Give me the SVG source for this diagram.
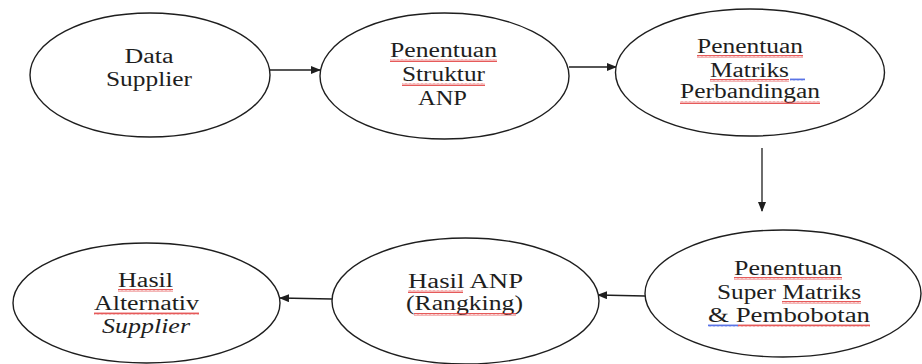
<svg xmlns="http://www.w3.org/2000/svg" width="922" height="364" viewBox="0 0 922 364">
<style>
.n ellipse{fill:#fff;stroke:#1e1e1e;stroke-width:1.4}
text{font-family:"Liberation Serif","Times New Roman",serif;font-size:20px;fill:#1e1e1e;text-anchor:middle}
.c line{stroke:#1e1e1e;stroke-width:1.3}
.w{fill:url(#wr)}
.wb{fill:url(#wb)}
</style>
<defs>
<marker id="ah" markerWidth="10" markerHeight="8" refX="9" refY="4" orient="auto" markerUnits="userSpaceOnUse">
<path d="M0,0 L10,4 L0,8 Z" fill="#1e1e1e"/>
</marker>
<pattern id="wr" width="4" height="3" patternUnits="userSpaceOnUse">
<path d="M0,2.5 L1,0.5 L2,2.5 L3,0.5 L4,2.5" fill="none" stroke="#e03030" stroke-width="0.8"/>
</pattern>
<pattern id="wb" width="4" height="3" patternUnits="userSpaceOnUse">
<path d="M0,2.5 L1,0.5 L2,2.5 L3,0.5 L4,2.5" fill="none" stroke="#3050e0" stroke-width="0.8"/>
</pattern>
</defs>
<g class="c" id="connectors">
<line x1="270" y1="70" x2="320" y2="70" marker-end="url(#ah)"/>
<line x1="569" y1="67" x2="616" y2="67" marker-end="url(#ah)"/>
<line x1="762" y1="148" x2="762" y2="211" marker-end="url(#ah)"/>
<line x1="645" y1="296" x2="598" y2="295" marker-end="url(#ah)"/>
<line x1="332" y1="299" x2="280" y2="298" marker-end="url(#ah)"/>
</g>
<g class="n" id="node-data-supplier">
<ellipse cx="150" cy="75" rx="120" ry="62"/>
<text x="149" y="63" textLength="49" lengthAdjust="spacingAndGlyphs">Data</text>
<text x="149" y="86" textLength="86" lengthAdjust="spacingAndGlyphs">Supplier</text>
</g>
<g class="n" id="node-struktur-anp">
<ellipse cx="444.5" cy="76" rx="124.5" ry="63"/>
<text x="443.5" y="57" textLength="107" lengthAdjust="spacingAndGlyphs">Penentuan</text>
<text x="443.5" y="81" textLength="83" lengthAdjust="spacingAndGlyphs">Struktur</text>
<text x="442.5" y="105" textLength="49" lengthAdjust="spacingAndGlyphs">ANP</text>
<rect class="w" x="390" y="59" width="107" height="3"/>
<rect class="w" x="402" y="83" width="83" height="3"/>
</g>
<g class="n" id="node-matriks-perbandingan">
<ellipse cx="750" cy="72.5" rx="134.5" ry="63.5"/>
<text x="750" y="53" textLength="106" lengthAdjust="spacingAndGlyphs">Penentuan</text>
<text x="749.5" y="77" textLength="79" lengthAdjust="spacingAndGlyphs">Matriks</text>
<text x="750" y="98" textLength="140" lengthAdjust="spacingAndGlyphs">Perbandingan</text>
<rect class="w" x="697" y="55" width="106" height="3"/>
<rect class="w" x="710" y="79" width="79" height="3"/>
<rect class="wb" x="790" y="78" width="15" height="3"/>
<rect class="w" x="680" y="101" width="140" height="3"/>
</g>
<g class="n" id="node-super-matriks">
<ellipse cx="783" cy="293.5" rx="138" ry="63.5"/>
<text x="788" y="275" textLength="108" lengthAdjust="spacingAndGlyphs">Penentuan</text>
<text x="789" y="299" textLength="144" lengthAdjust="spacingAndGlyphs">Super Matriks</text>
<text x="789" y="322" textLength="162" lengthAdjust="spacingAndGlyphs">&amp;  Pembobotan</text>
<rect class="w" x="734" y="277" width="108" height="3"/>
<rect class="w" x="782" y="301" width="79" height="3"/>
<rect class="wb" x="708" y="324" width="30" height="3"/>
<rect class="w" x="738" y="324" width="132" height="3"/>
</g>
<g class="n" id="node-hasil-anp">
<ellipse cx="465.5" cy="301" rx="133.5" ry="63"/>
<text x="465.5" y="288" textLength="115" lengthAdjust="spacingAndGlyphs">Hasil ANP</text>
<text x="464.5" y="310" textLength="117" lengthAdjust="spacingAndGlyphs">(Rangking)</text>
<rect class="w" x="408" y="290" width="55" height="3"/>
<rect class="w" x="414" y="313" width="102" height="3"/>
</g>
<g class="n" id="node-hasil-alternativ">
<ellipse cx="146.5" cy="303" rx="133.5" ry="60"/>
<text x="145.5" y="287" textLength="55" lengthAdjust="spacingAndGlyphs">Hasil</text>
<text x="146.5" y="310" textLength="105" lengthAdjust="spacingAndGlyphs">Alternativ</text>
<text x="146" y="333" textLength="88" lengthAdjust="spacingAndGlyphs" font-style="italic">Supplier</text>
<rect class="w" x="118" y="289" width="55" height="3"/>
<rect class="w" x="94" y="312" width="105" height="3"/>
</g>
</svg>
